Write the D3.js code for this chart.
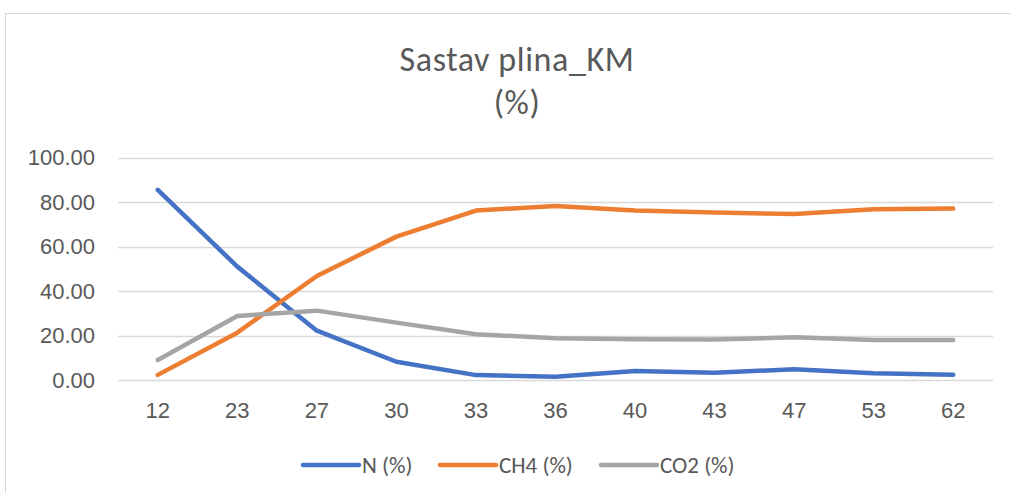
<!DOCTYPE html>
<html>
<head>
<meta charset="utf-8">
<script src="https://cdn.jsdelivr.net/npm/d3@7"></script>
<style>
  body { margin: 0; background: #fff; }
  svg { display: block; font-family: Carlito, Calibri, Lato, "Open Sans", sans-serif; }
</style>
</head>
<body>
<svg id="svg" width="1011" height="493"></svg>
<script>
// data
const categories = ["12", "23", "27", "30", "33", "36", "40", "43", "47", "53", "62"];
const nValues = [85.5, 51.0, 22.2, 8.2, 2.2, 1.5, 4.0, 3.3, 4.8, 3.0, 2.4];
const ch4Values = [2.3, 21.3, 46.8, 64.5, 76.2, 78.3, 76.2, 75.3, 74.7, 76.8, 77.1];
const co2Values = [9.0, 28.8, 31.2, 25.8, 20.6, 18.8, 18.3, 18.2, 19.2, 18.0, 18.0];
const yTicks = [0, 20, 40, 60, 80, 100];

const series = [
  { name: "N (%)", values: nValues, color: "#4472C4" },
  { name: "CH4 (%)", values: ch4Values, color: "#ED7D31" },
  { name: "CO2 (%)", values: co2Values, color: "#A5A5A5" }
];

const svg = d3.select("#svg");
const textColor = "#595959";

// chart area frame
svg.append("rect")
  .attr("x", 5.5).attr("y", 13.5)
  .attr("width", 1010).attr("height", 490)
  .attr("fill", "none")
  .attr("stroke", "#D9D9D9");

// title
const title = svg.append("text")
  .attr("text-anchor", "middle")
  .attr("fill", textColor)
  .style("font-size", "34px")
  .style("letter-spacing", "0.6px");
title.append("tspan").attr("x", 517).attr("y", 71).text("Sastav plina_KM");
title.append("tspan").attr("x", 517).attr("y", 114).text("(%)");

const xScale = d3.scaleBand()
  .domain(categories)
  .range([118, 993]);

const yScale = d3.scaleLinear()
  .domain([0, 100])
  .range([380, 157.7]);

// horizontal grid
svg.append("g")
  .selectAll("line")
  .data(yTicks)
  .enter()
  .append("line")
  .attr("x1", 118).attr("x2", 993)
  .attr("y1", d => Math.round(yScale(d)) + 0.5)
  .attr("y2", d => Math.round(yScale(d)) + 0.5)
  .attr("stroke", "#D9D9D9")
  .attr("stroke-width", 1.3);

// y axis
const yAxis = svg.append("g")
  .attr("transform", "translate(95, 0)")
  .call(d3.axisLeft(yScale).tickValues(yTicks).tickFormat(d3.format(".2f")).tickSize(0).tickPadding(0));
yAxis.select(".domain").remove();
yAxis.selectAll("text")
  .attr("fill", textColor)
  .style("font-size", "22px")
  .style("font-family", null);

// x axis
const xAxis = svg.append("g")
  .attr("transform", "translate(0, 380)")
  .call(d3.axisBottom(xScale).tickSize(0).tickPadding(22));
xAxis.select(".domain").remove();
xAxis.selectAll("text")
  .attr("fill", textColor)
  .style("font-size", "22px")
  .style("font-family", null);

// lines
const line = d3.line()
  .x((d, i) => xScale(categories[i]) + xScale.bandwidth() / 2)
  .y(d => yScale(d));

svg.append("g")
  .selectAll("path")
  .data(series)
  .enter()
  .append("path")
  .attr("d", d => line(d.values))
  .attr("fill", "none")
  .attr("stroke", d => d.color)
  .attr("stroke-width", 4.5)
  .attr("stroke-linecap", "round")
  .attr("stroke-linejoin", "round");

// legend
const legendX = [303, 440, 601];
const legend = svg.append("g")
  .selectAll("g")
  .data(series)
  .enter()
  .append("g")
  .attr("transform", (d, i) => `translate(${legendX[i]}, 465)`);

legend.append("line")
  .attr("x1", 0).attr("x2", 56)
  .attr("y1", 0).attr("y2", 0)
  .attr("stroke", d => d.color)
  .attr("stroke-width", 4.5)
  .attr("stroke-linecap", "round");

legend.append("text")
  .attr("x", 59)
  .attr("dy", "0.35em")
  .attr("fill", textColor)
  .style("font-size", "23px")
  .text(d => d.name);
</script>
</body>
</html>
